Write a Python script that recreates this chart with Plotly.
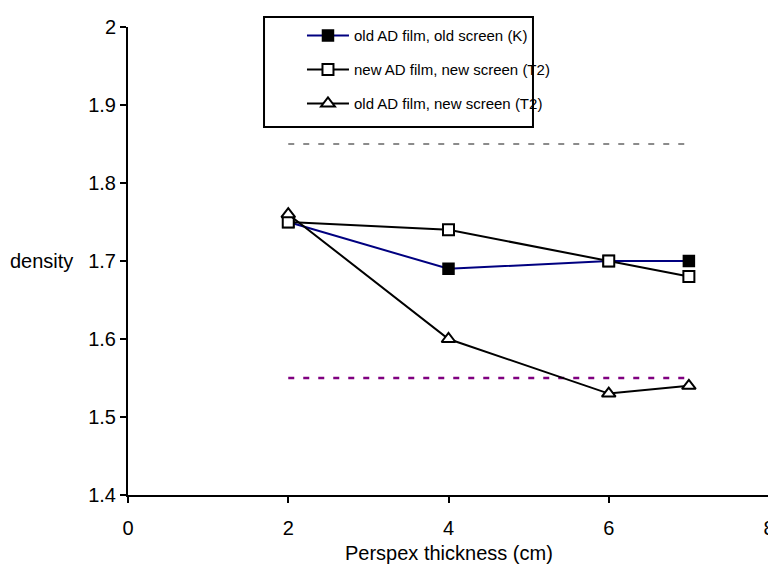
import plotly.graph_objects as go

thickness = [2, 4, 6, 7]
old_film_old_screen = [1.75, 1.69, 1.70, 1.70]
new_film_new_screen = [1.75, 1.74, 1.70, 1.68]
old_film_new_screen = [1.76, 1.60, 1.53, 1.54]

ref_x = [2, 7]
upper_limit = [1.85, 1.85]
lower_limit = [1.55, 1.55]

names = ["old AD film, old screen (K)",
         "new AD film, new screen (T2)",
         "old AD film, new screen (T2)"]

x_ticks = [0, 2, 4, 6, 8]
y_ticks = [1.4, 1.5, 1.6, 1.7, 1.8, 1.9, 2.0]
y_tick_text = ["1.4", "1.5", "1.6", "1.7", "1.8", "1.9", "2"]

fig = go.Figure()

fig.add_trace(go.Scatter(x=ref_x, y=upper_limit, mode="lines", showlegend=False,
                         line=dict(color="#666666", width=1.3, dash="6px,9px"),
                         hoverinfo="skip"))
fig.add_trace(go.Scatter(x=ref_x, y=lower_limit, mode="lines", showlegend=False,
                         line=dict(color="#800080", width=2.5, dash="6px,9px"),
                         hoverinfo="skip"))

fig.add_trace(go.Scatter(x=thickness, y=old_film_old_screen, mode="lines+markers",
                         name=names[0], legendgroup="a",
                         line=dict(color="#000080", width=2),
                         marker=dict(symbol="square", size=11, color="black",
                                     line=dict(color="black", width=1.5))))
fig.add_trace(go.Scatter(x=thickness, y=new_film_new_screen, mode="lines+markers",
                         name=names[1], legendgroup="b",
                         line=dict(color="black", width=2),
                         marker=dict(symbol="square", size=11, color="white",
                                     line=dict(color="black", width=2))))
fig.add_trace(go.Scatter(x=thickness, y=old_film_new_screen, mode="lines+markers",
                         name=names[2], legendgroup="c",
                         line=dict(color="black", width=2),
                         marker=dict(symbol="triangle-up", size=12, color="white",
                                     line=dict(color="black", width=2))))

font_family = "Liberation Sans, Arial, sans-serif"

# the page body adds an 8px offset, so the figure is 8px smaller and
# the left/top margins are reduced by 8px
fig.update_layout(
    width=768, height=557,
    margin=dict(l=120, r=7, t=19, b=70, autoexpand=False),
    paper_bgcolor="white", plot_bgcolor="white",
    font=dict(family=font_family, size=20, color="black"),
    showlegend=True,
    legend=dict(x=0.2683, y=1.021, xanchor="left", yanchor="top",
                bordercolor="rgba(0,0,0,0)", borderwidth=2,
                bgcolor="rgba(0,0,0,0)",
                font=dict(size=15), traceorder="grouped", tracegroupgap=11.5,
                itemwidth=42),
    shapes=[dict(type="rect", xref="paper", yref="paper",
                 x0=0.2122, x1=0.6318, y0=0.7863, y1=1.0214,
                 line=dict(color="black", width=2), fillcolor="white",
                 layer="above")],
    xaxis=dict(range=[0, 8], tickvals=x_ticks, showgrid=False, automargin=False,
               zeroline=False, showline=True, linecolor="black", linewidth=2,
               ticks="outside", ticklen=6, tickwidth=2, tickcolor="black",
               tickfont=dict(size=20), ticklabelstandoff=8,
               ticklabeloverflow="allow"),
    yaxis=dict(range=[1.4, 2.0], tickvals=y_ticks, ticktext=y_tick_text,
               showgrid=False, zeroline=False, showline=True, linecolor="black",
               automargin=False, linewidth=2, ticks="outside", ticklen=6,
               tickwidth=2, tickcolor="black", tickfont=dict(size=20)),
    annotations=[
        dict(text="density", xref="paper", yref="y", x=-0.0827, y=1.7,
             xanchor="right", yanchor="middle", showarrow=False,
             font=dict(size=20)),
        dict(text="Perspex thickness (cm)", xref="paper", yref="paper",
             x=0.5, y=-0.124, xanchor="center", yanchor="middle",
             showarrow=False, font=dict(size=20)),
    ],
)

fig.write_html("out.html")
